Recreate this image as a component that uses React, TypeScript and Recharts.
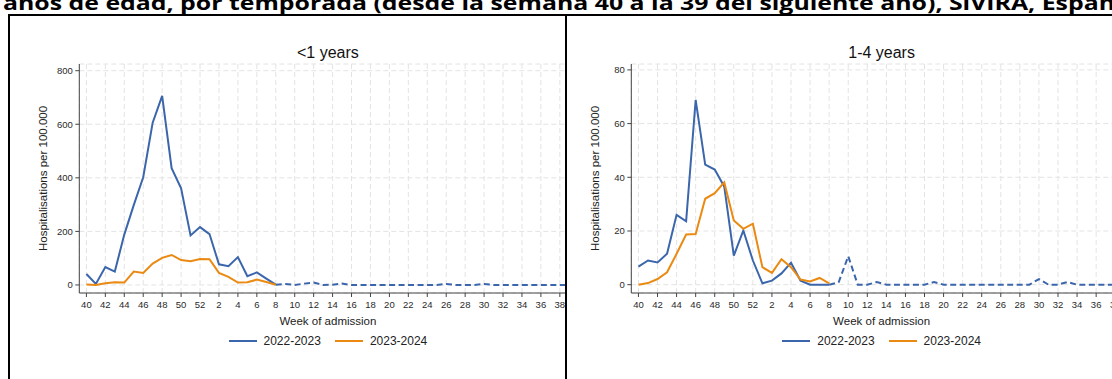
import React from 'react';
import { LineChart, Line, XAxis, YAxis, CartesianGrid, Label } from 'recharts';

// Epidemiological weeks, from week 40 through week 39 of the following year
const weeks = [
  40, 41, 42, 43, 44, 45, 46, 47, 48, 49, 50, 51, 52,
  1, 2, 3, 4, 5, 6, 7, 8, 9, 10, 11, 12, 13, 14, 15, 16, 17, 18, 19, 20,
  21, 22, 23, 24, 25, 26, 27, 28, 29, 30, 31, 32, 33, 34, 35, 36, 37, 38, 39,
];
const tickIndexes = [0, 2, 4, 6, 8, 10, 12, 14, 16, 18, 20, 22, 24, 26, 28, 30, 32, 34, 36, 38, 40, 42, 44, 46, 48, 50];
const seasons = ['2022-2023', '2023-2024'];
const seasonColors = ['#3b66ab', '#ea8a12'];

// Index of week 8: the previous season is drawn solid up to here, dashed afterwards
const comparableEnd = 20;

// <1 years, hospitalisations per 100.000
const infantPrev = [
  41, 4, 67, 50, 188, 298, 402, 606, 706, 436, 361, 185, 216,
  190, 77, 70, 104, 33, 47, 24, 1, 4, 0, 5, 9, 0, 1, 5, 0, 0, 0, 0, 0,
  0, 0, 0, 0, 0, 4, 0, 0, 0, 4, 0, 0, 0, 0, 0, 0, 0, 0, 0,
];
const infantCurr = [2, 0, 6, 10, 9, 50, 45, 80, 101, 112, 93, 89, 97, 96, 45, 30, 9, 10, 20, 11, 1];

// 1-4 years, hospitalisations per 100.000
const toddlerPrev = [
  6.7, 9.0, 8.3, 11.5, 26.0, 23.6, 68.8, 44.7, 42.9, 36.5, 10.8, 20.2, 9.0,
  0.5, 1.5, 4.2, 8.2, 1.5, 0, 0, 0, 0.9, 10.6, 0, 0, 1.0, 0, 0, 0, 0, 0, 1.0, 0,
  0, 0, 0, 0, 0, 0, 0, 0, 0, 2.1, 0, 0, 1.0, 0, 0, 0, 0, 0, 0,
];
const toddlerCurr = [0, 0.6, 2.1, 4.6, 11.5, 18.7, 18.9, 32.0, 34.1, 38.1, 23.9, 20.8, 22.7, 6.5, 4.4, 9.5, 6.5, 1.9, 1.2, 2.5, 0.5];

const infantTicks = [0, 200, 400, 600, 800];
const toddlerTicks = [0, 20, 40, 60, 80];

const FONT = '"Liberation Sans", Arial, sans-serif';

function buildRows(prev: number[], curr: number[]) {
  return weeks.map((w, i) => ({
    idx: i,
    week: w,
    prevSolid: i <= comparableEnd ? prev[i] : null,
    prevDashed: i >= comparableEnd ? prev[i] : null,
    curr: i < curr.length ? curr[i] : null,
  }));
}

type PanelProps = {
  title: string;
  rows: ReturnType<typeof buildRows>;
  yDomain: [number, number];
  yTicks: number[];
  yAxisWidth: number;
  marginRight: number;
  centerX: number;
};

const CHART_W = 600;
const CHART_H = 379;
const PLOT_TOP = 64;
const PLOT_BOTTOM = 293;

function Panel({ title, rows, yDomain, yTicks, yAxisWidth, marginRight, centerX }: PanelProps) {
  const plotMidY = (PLOT_TOP + PLOT_BOTTOM) / 2;
  const yLabelX = yAxisWidth - 36.5;
  return (
    <div style={{ position: 'absolute', left: 0, top: 0, width: CHART_W, height: CHART_H }}>
      <LineChart
        width={CHART_W}
        height={CHART_H}
        data={rows}
        margin={{ top: PLOT_TOP, right: marginRight, bottom: 0, left: 0 }}
        style={{ fontFamily: FONT }}
      >
        <CartesianGrid stroke="#e3e3e3" strokeDasharray="5 3" />
        <XAxis
          dataKey="idx"
          type="number"
          domain={[-0.75, 51.75]}
          ticks={tickIndexes}
          interval={0}
          allowDataOverflow
          tickFormatter={(i: number) => String(weeks[i])}
          height={CHART_H - PLOT_BOTTOM}
          tickSize={4}
          tickMargin={4}
          tick={{ fontSize: 9.5, fill: '#2a2a2a', fontFamily: FONT }}
          tickLine={{ stroke: '#444' }}
          axisLine={{ stroke: '#444' }}
        >
          <Label
            content={() => (
              <text x={centerX} y={325} textAnchor="middle" fontSize={11.5} fill="#222" fontFamily={FONT}>
                Week of admission
              </text>
            )}
          />
        </XAxis>
        <YAxis
          type="number"
          domain={yDomain}
          ticks={yTicks}
          interval={0}
          allowDataOverflow
          width={yAxisWidth}
          tickSize={4}
          tickMargin={2.5}
          tick={{ fontSize: 9.5, fill: '#2a2a2a', fontFamily: FONT }}
          tickLine={{ stroke: '#444' }}
          axisLine={{ stroke: '#444' }}
        >
          <Label
            content={() => (
              <text
                x={yLabelX}
                y={plotMidY}
                transform={`rotate(-90 ${yLabelX} ${plotMidY})`}
                textAnchor="middle"
                dominantBaseline="central"
                fontSize={11.5}
                fill="#222"
                fontFamily={FONT}
              >
                Hospitalisations per 100.000
              </text>
            )}
          />
        </YAxis>
        <Line
          dataKey="prevSolid"
          name={seasons[0]}
          type="linear"
          stroke={seasonColors[0]}
          strokeWidth={2}
          dot={false}
          activeDot={false}
          isAnimationActive={false}
        />
        <Line
          dataKey="prevDashed"
          name={seasons[0]}
          type="linear"
          stroke={seasonColors[0]}
          strokeWidth={2}
          strokeDasharray="6 3.5"
          dot={false}
          activeDot={false}
          isAnimationActive={false}
        />
        <Line
          dataKey="curr"
          name={seasons[1]}
          type="linear"
          stroke={seasonColors[1]}
          strokeWidth={2}
          dot={false}
          activeDot={false}
          isAnimationActive={false}
        />
      </LineChart>
      <div
        style={{
          position: 'absolute',
          left: centerX - 100,
          width: 200,
          top: 43,
          textAlign: 'center',
          fontFamily: FONT,
          fontSize: 16,
          color: '#111',
          lineHeight: '20px',
        }}
      >
        {title}
      </div>
      <div
        style={{
          position: 'absolute',
          left: centerX - 150,
          width: 300,
          top: 333,
          height: 16,
          display: 'flex',
          justifyContent: 'center',
          alignItems: 'center',
          fontFamily: FONT,
          fontSize: 12,
          color: '#222',
        }}
      >
        {seasons.map((s, k) => (
          <div key={s} style={{ display: 'flex', alignItems: 'center', marginLeft: k === 0 ? 0 : 14 }}>
            <div style={{ width: 28, height: 2, background: seasonColors[k], marginRight: 7 }} />
            <span>{s}</span>
          </div>
        ))}
      </div>
    </div>
  );
}

export default function App() {
  const infantRows = buildRows(infantPrev, infantCurr);
  const toddlerRows = buildRows(toddlerPrev, toddlerCurr);
  return (
    <div
      style={{
        position: 'fixed',
        left: 0,
        top: 0,
        width: 1112,
        height: 379,
        overflow: 'hidden',
        background: '#fff',
      }}
    >
      <svg width={1112} height={20} style={{ position: 'absolute', left: 0, top: 0 }}>
        <text
          x={3}
          y={10}
          fontFamily='"Open Sans", sans-serif'
          fontWeight={700}
          fontSize={19}
          fill="#000"
          textLength={1127}
          lengthAdjust="spacingAndGlyphs"
        >
          años de edad, por temporada (desde la semana 40 a la 39 del siguiente año), SiVIRA, España
        </text>
      </svg>
      {/* table frame */}
      <div style={{ position: 'absolute', left: 8, top: 14, width: 1104, height: 2, background: '#000' }} />
      <div style={{ position: 'absolute', left: 8, top: 14, width: 2, height: 365, background: '#000' }} />
      <div style={{ position: 'absolute', left: 565, top: 14, width: 2, height: 365, background: '#000' }} />

      <div style={{ position: 'absolute', left: 10, top: 16, width: 555, height: 363, overflow: 'hidden' }}>
        <div style={{ position: 'absolute', left: -10, top: -16 }}>
          <Panel
            title="<1 years"
            rows={infantRows}
            yDomain={[-30, 825]}
            yTicks={infantTicks}
            yAxisWidth={79.3}
            marginRight={CHART_W - 576.4}
            centerX={327.9}
          />
        </div>
      </div>
      <div style={{ position: 'absolute', left: 567, top: 16, width: 545, height: 363, overflow: 'hidden' }}>
        <div style={{ position: 'absolute', left: 0, top: -16 }}>
          <Panel
            title="1-4 years"
            rows={toddlerRows}
            yDomain={[-3.1, 82.2]}
            yTicks={toddlerTicks}
            yAxisWidth={64.3}
            marginRight={CHART_W - 564.9}
            centerX={314.6}
          />
        </div>
      </div>
    </div>
  );
}
